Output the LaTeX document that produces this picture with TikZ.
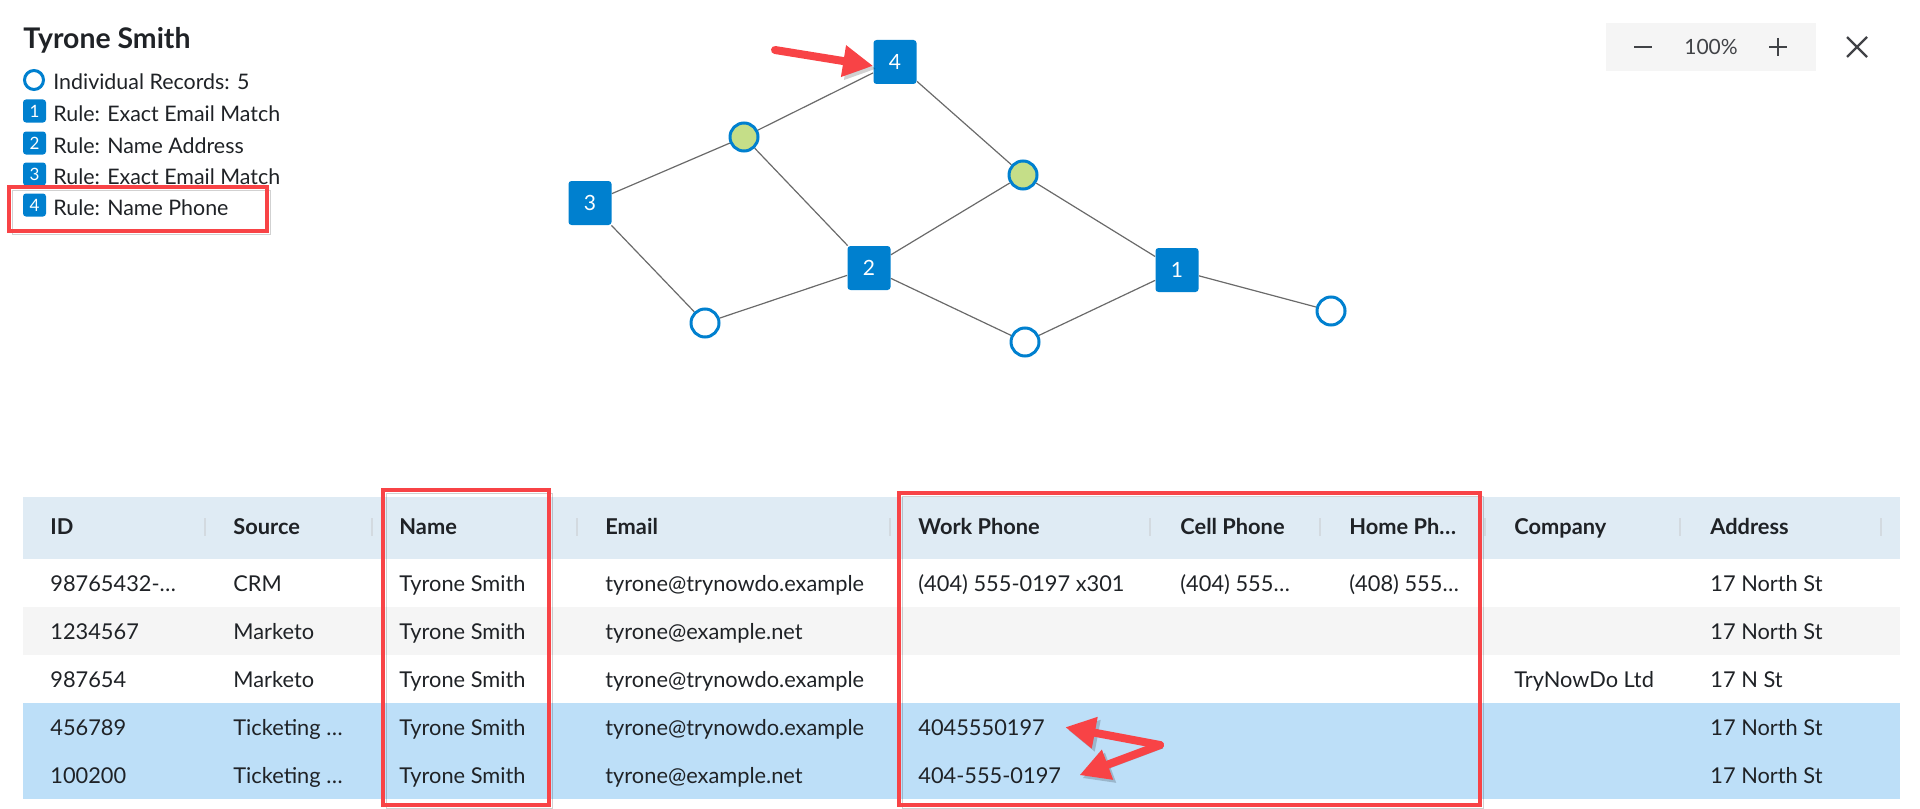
\documentclass[tikz,border=0pt]{standalone}
\usepackage{fontspec}
\setmainfont{Lato}
\usetikzlibrary{arrows.meta}
\pgfdeclarelayer{background}
\pgfsetlayers{background,main}
\definecolor{nodeblue}{HTML}{0080CF}
\definecolor{mergegreen}{HTML}{C5DE88}
\definecolor{callred}{HTML}{F84346}
\definecolor{headbg}{HTML}{DFEBF4}
\definecolor{stripe}{HTML}{F5F5F5}
\definecolor{selrow}{HTML}{BDDFF8}
\definecolor{ink}{HTML}{1F2226}
\definecolor{sepgrey}{HTML}{D3DAE0}
\definecolor{edgegrey}{HTML}{6A6A6A}
\definecolor{toolbg}{HTML}{F5F5F5}
\def\rules{{(1177,270)/1}, {(869,268)/2}, {(590,203)/3}, {(895,62)/4}}
\def\merged{{(744,137)/m1}, {(1023,175)/m2}}
\def\records{{(705,323)/r1}, {(1025,342)/r2}, {(1331,311)/r3}}
\def\connect{n3/m1, m1/n4, n4/m2, m1/n2, m2/n2, m2/n1, n3/r1, r1/n2, n2/r2, r2/n1, n1/r3}
\def\columns{{50/ID}, {233/Source}, {399/Name}, {605/Email}, {918/Work Phone}, {1180/Cell Phone}, {1349/Home Ph…}, {1514/Company}, {1710/Address}}
\def\separators{205, 372, 577, 890, 1150, 1320, 1485, 1680, 1881}
\tikzstyle{rule-vertex}=[rectangle, rounded corners=1.5pt, fill=nodeblue, text=white, minimum width=21.5pt, minimum height=22pt, inner sep=0pt, font=\fontsize{10.5}{12}\selectfont]
\tikzstyle{record-vertex}=[circle, draw=nodeblue, line width=1.5pt, fill=white, minimum size=14pt, inner sep=0pt]
\tikzstyle{merged-vertex}=[record-vertex, fill=mergegreen]
\tikzstyle{edge} = [draw, edgegrey, line width=0.6pt]
\tikzstyle{badge}=[rectangle, rounded corners=1.5pt, fill=nodeblue, text=white, minimum size=11.5pt, inner sep=0pt, font=\fontsize{8.5}{10}\selectfont]
\tikzstyle{legend-text}=[anchor=base west, inner sep=0pt, text=ink, font=\fontsize{10.7}{13}\selectfont]
\tikzstyle{cell}=[anchor=base west, inner sep=0pt, text=ink, font=\fontsize{10.9}{13}\selectfont]
\tikzstyle{head}=[cell, font=\fontsize{10.9}{13}\selectfont\bfseries]
\tikzstyle{icon}=[draw=ink!85, line width=1.1pt]
\tikzstyle{callout}=[draw=callred, line width=2.25pt, preaction={draw=black, opacity=0.18, transform canvas={shift={(1.5pt,-1.5pt)}}}]
\tikzstyle{pointer}=[callout, line width=4pt, line cap=round, -{Triangle[length=15pt,width=15pt]}]
\begin{document}
\begin{tikzpicture}[x=0.5pt, y=-0.5pt]
  \useasboundingbox (0,0) rectangle (1920,808);

  % Title and legend
  \node[anchor=base west, inner sep=0pt, text=ink, font=\fontsize{14.2}{16}\selectfont\bfseries] (title) at (23,49) {Tyrone Smith};
  \node[record-vertex, minimum size=9.5pt] (key-r) at (34,80) {};
  \node[legend-text] (key-r-text) at (53,90) {Individual Records: 5};
  \foreach \n/\ypos/\txt in {1/111/Exact Email Match, 2/143/Name Address, 3/174/Exact Email Match, 4/205/Name Phone} {
    \node[badge] (key-\n) at (34.5,\ypos) {\n};
    \node[legend-text] (key-\n-text) at (53,\ypos+10) {Rule: \txt};
  }
  \draw[callout] (9,187) rectangle (267,231);

  % The rules, the merged and the single records
  \foreach \pos/\name in \rules
    \node[rule-vertex] (n\name) at \pos {\name};
  \foreach \pos/\name in \merged
    \node[merged-vertex] (\name) at \pos {};
  \foreach \pos/\name in \records
    \node[record-vertex] (\name) at \pos {};

  \begin{pgfonlayer}{background}
    \foreach \source/\dest in \connect
      \path[edge] (\source) -- (\dest);
  \end{pgfonlayer}

  \coordinate (pointer-tail) at (775,50);
  \draw[pointer] (pointer-tail) -- (n4.190);

  % Zoom controls
  \fill[toolbg] (1606,23) rectangle (1816,71);
  \draw[icon] (1634,47) -- (1652,47);
  \node[text=ink!85, inner sep=0pt, font=\fontsize{10.5}{12}\selectfont] (zoom-level) at (1711,47) {100\%};
  \draw[icon] (1769,47) -- (1787,47) (1778,38) -- (1778,56);
  \draw[icon] (1847,37) -- (1867,57) (1847,57) -- (1867,37);

  % The table
  \fill[headbg] (23,497) rectangle (1900,559);
  \fill[stripe] (23,607) rectangle (1900,655);
  \fill[selrow] (23,703) rectangle (1900,799);
  \foreach \x in \separators
    \draw[sepgrey, line width=0.6pt] (\x,518) -- (\x,536);
  \foreach \x/\txt [count=\c] in \columns
    \node[head] (head\c) at (\x,534) {\txt};

  \foreach \base/\id/\src/\mail/\work/\cellp/\home/\comp/\addr [count=\r] in {
      591/98765432-…/CRM/tyrone@trynowdo.example/(404) 555-0197 x301/(404) 555…/(408) 555…//17 North St,
      639/1234567/Marketo/tyrone@example.net/////17 North St,
      687/987654/Marketo/tyrone@trynowdo.example////TryNowDo Ltd/17 N St,
      735/456789/Ticketing …/tyrone@trynowdo.example/4045550197////17 North St,
      783/100200/Ticketing …/tyrone@example.net/404-555-0197////17 North St} {
    \node[cell] (id\r) at (50,\base) {\id};
    \node[cell] (src\r) at (233,\base) {\src};
    \node[cell] (name\r) at (399,\base) {Tyrone Smith};
    \node[cell] (mail\r) at (605,\base) {\mail};
    \node[cell] (work\r) at (918,\base) {\work};
    \node[cell] (cellp\r) at (1180,\base) {\cellp};
    \node[cell] (home\r) at (1349,\base) {\home};
    \node[cell] (comp\r) at (1514,\base) {\comp};
    \node[cell] (addr\r) at (1710,\base) {\addr};
  }

  % Highlights
  \draw[callout] (383,490) rectangle (549,805);
  \draw[callout] (899,493) rectangle (1480,805);
  \coordinate (fork) at (1160,745);
  \draw[pointer] (fork) -- ([xshift=10pt]work4.east);
  \draw[pointer] (fork) -- ([xshift=9pt]work5.east);
\end{tikzpicture}
\end{document}
